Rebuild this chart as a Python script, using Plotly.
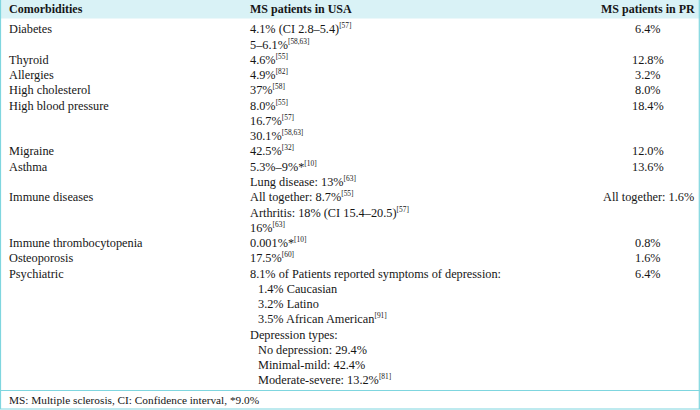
import plotly.graph_objects as go

# ---------------- data ----------------
headers = ["Comorbidities", "MS patients in USA", "MS patients in PR"]

comorbidities = ["Diabetes", "Thyroid", "Allergies", "High cholesterol",
                 "High blood pressure", "Migraine", "Asthma", "Immune diseases",
                 "Immune thrombocytopenia", "Osteoporosis", "Psychiatric"]

usa_values = [
    ["4.1% (CI 2.8–5.4)^[57]", "5–6.1%^[58,63]"],
    ["4.6%^[55]"],
    ["4.9%^[82]"],
    ["37%^[58]"],
    ["8.0%^[55]", "16.7%^[57]", "30.1%^[58,63]"],
    ["42.5%^[32]"],
    ["5.3%–9%*^[10]", "Lung disease: 13%^[63]"],
    ["All together: 8.7%^[55]", "Arthritis: 18% (CI 15.4–20.5)^[57]", "16%^[63]"],
    ["0.001%*^[10]"],
    ["17.5%^[60]"],
    ["8.1% of Patients reported symptoms of depression:",
     "> 1.4% Caucasian", "> 3.2% Latino", "> 3.5% African American^[91]",
     "Depression types:",
     "> No depression: 29.4%", "> Minimal-mild: 42.4%",
     "> Moderate-severe: 13.2%^[81]"],
]

pr_values = ["6.4%", "12.8%", "3.2%", "8.0%", "18.4%", "12.0%", "13.6%",
             "All together: 1.6%", "0.8%", "1.6%", "6.4%"]

footnote = "MS: Multiple sclerosis, CI: Confidence interval, *9.0%"

# ---------------- figure ----------------
W, H = 700, 410
LINE0, STEP = 30.0, 15.26          # pixel centre of first body line, line pitch
BOT = 8.4                           # px from line centre to annotation box bottom


def line_of(py):                    # pixel -> line units
    return (py - LINE0) / STEP


FONT = "Liberation Serif"
FS = 12.3
TXT = "#161616"
BORDER = "#7fd6df"
HEAD_BG = "#d9f2f6"

X_COL1, X_COL2, X_COL3 = 7, 248, 648
INDENT = 8


def f(size=FS):
    return dict(family=FONT, size=size, color=TXT)


def fmt(t):
    if "^" in t:
        main, ref = t.split("^", 1)
        return f'{main}<sup><span style="font-size:7.4px">{ref}</span></sup>'
    return t


fig = go.Figure()
fig.add_trace(go.Scatter(x=[0], y=[0], mode="markers", marker=dict(opacity=0),
                         hoverinfo="skip", showlegend=False))

ann = []


def put(x, line, text, anchor="left", size=FS):
    ann.append(dict(x=x, y=line + BOT / STEP, text=text, xanchor=anchor,
                    yanchor="bottom", showarrow=False, font=f(size)))


for txt, x, anchor in zip(headers, [X_COL1, X_COL2, X_COL3], ["left", "left", "center"]):
    put(x, line_of(9.5), f"<b>{txt}</b>", anchor, size=12)

line = 0
for name, usa, pr in zip(comorbidities, usa_values, pr_values):
    put(X_COL1, line, name)
    put(X_COL3, line, pr, "center")
    for k, t in enumerate(usa):
        x = X_COL2
        if t.startswith("> "):
            t = t[2:]
            x += INDENT
        put(x, line + k, fmt(t))
    line += len(usa)

put(X_COL1, line_of(400), footnote, size=FS - 1)

shapes = [
    dict(type="rect", xref="x", yref="y", x0=0, x1=W, y0=line_of(0), y1=line_of(18.5),
         fillcolor=HEAD_BG, line=dict(width=0), layer="below"),
    dict(type="line", xref="x", yref="y", x0=0.5, x1=0.5, y0=line_of(0), y1=line_of(409),
         line=dict(color=BORDER, width=1.2)),
    dict(type="line", xref="x", yref="y", x0=699.3, x1=699.3, y0=line_of(0), y1=line_of(409),
         line=dict(color=BORDER, width=1.2)),
    dict(type="line", xref="x", yref="y", x0=0, x1=W, y0=line_of(390.5), y1=line_of(390.5),
         line=dict(color=BORDER, width=1.2)),
    dict(type="line", xref="x", yref="y", x0=0, x1=W, y0=line_of(409), y1=line_of(409),
         line=dict(color=BORDER, width=1.2)),
]

fig.update_layout(
    width=W, height=H, margin=dict(l=0, r=0, t=0, b=0),
    paper_bgcolor="white", plot_bgcolor="white",
    xaxis=dict(range=[0, W], visible=False, fixedrange=True),
    yaxis=dict(range=[line_of(H), line_of(0)], visible=False, fixedrange=True),
    annotations=ann, shapes=shapes, showlegend=False,
)

fig.write_html("out.html", config={"displayModeBar": False},
               post_script="document.body.style.margin='0';document.body.style.overflow='hidden';")
